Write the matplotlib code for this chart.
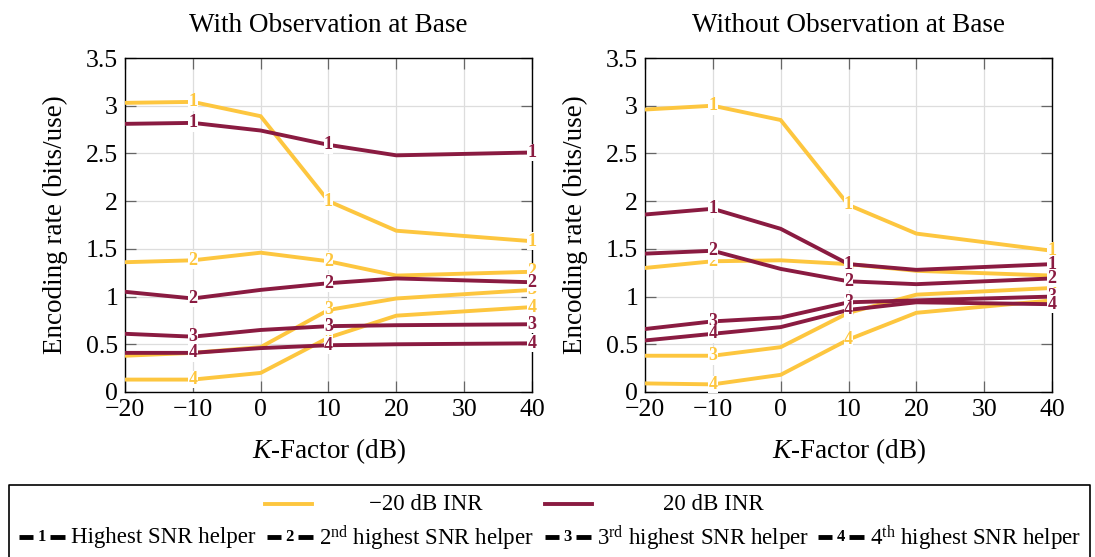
import matplotlib
matplotlib.use('Agg')
import matplotlib.pyplot as plt

plt.rcParams['font.family'] = ['Liberation Serif', 'DejaVu Serif']
plt.rcParams['mathtext.fontset'] = 'custom'
plt.rcParams['mathtext.rm'] = 'Liberation Serif'
plt.rcParams['mathtext.it'] = 'Liberation Serif:italic'
plt.rcParams['mathtext.bf'] = 'Liberation Serif:bold'

YELLOW = '#FDC63F'
MAROON = '#8A1B41'

k_factor = [-20, -10, 0, 10, 20, 40]
label_at = [-10, 10, 40]

# rows = 1st..4th highest SNR helper
with_m20 = [[3.03, 3.04, 2.89, 2.00, 1.69, 1.58],
            [1.36, 1.38, 1.46, 1.37, 1.22, 1.26],
            [0.38, 0.41, 0.47, 0.86, 0.98, 1.07],
            [0.13, 0.13, 0.20, 0.57, 0.80, 0.89]]
with_p20 = [[2.81, 2.82, 2.74, 2.59, 2.48, 2.51],
            [1.05, 0.98, 1.07, 1.14, 1.19, 1.15],
            [0.61, 0.58, 0.65, 0.69, 0.70, 0.71],
            [0.41, 0.41, 0.46, 0.49, 0.50, 0.51]]
without_m20 = [[2.96, 3.00, 2.85, 1.96, 1.66, 1.48],
               [1.30, 1.37, 1.38, 1.34, 1.27, 1.22],
               [0.38, 0.38, 0.47, 0.83, 1.02, 1.09],
               [0.09, 0.08, 0.18, 0.55, 0.83, 0.96]]
without_p20 = [[1.86, 1.92, 1.71, 1.34, 1.28, 1.34],
               [1.45, 1.48, 1.29, 1.16, 1.13, 1.19],
               [0.66, 0.74, 0.78, 0.94, 0.96, 1.00],
               [0.54, 0.61, 0.68, 0.86, 0.94, 0.92]]

titles = ['With Observation at Base', 'Without Observation at Base']
legend_helpers = ['Highest SNR helper', r'2$^{\mathrm{nd}}$ highest SNR helper',
                  r'3$^{\mathrm{rd}}$ highest SNR helper', r'4$^{\mathrm{th}}$ highest SNR helper']

fig = plt.figure(figsize=(10.95, 5.57), dpi=100)
ax1 = fig.add_axes([125 / 1095, 1 - 392 / 557, 407 / 1095, 334 / 557])
ax2 = fig.add_axes([645 / 1095, 1 - 392 / 557, 407 / 1095, 334 / 557])


def draw_series(ax, data, color):
    for i, vals in enumerate(data):
        ax.plot(k_factor, vals, color=color, lw=2.8, solid_joinstyle='miter', zorder=3)
        for x in label_at:
            y = vals[k_factor.index(x)]
            ax.text(x, y, str(i + 1), color=color, fontsize=13, fontweight='bold',
                    ha='center', va='center', zorder=4, clip_on=False,
                    bbox=dict(facecolor='white', edgecolor='none', pad=0.2))


for ax, title, low, high in [(ax1, titles[0], with_m20, with_p20),
                             (ax2, titles[1], without_m20, without_p20)]:
    draw_series(ax, low, YELLOW)
    draw_series(ax, high, MAROON)
    ax.set_xlim(-20, 40)
    ax.set_ylim(0, 3.5)
    ax.set_xticks(range(-20, 41, 10))
    ax.set_yticks([0, 0.5, 1, 1.5, 2, 2.5, 3, 3.5])
    ax.set_yticklabels(['0', '0.5', '1', '1.5', '2', '2.5', '3', '3.5'])
    ax.grid(True, color='#dddddd', lw=0.9, zorder=0)
    ax.set_axisbelow(True)
    ax.tick_params(direction='in', length=8, width=0.9, color='#666666',
                   top=True, right=True, labelsize=18.5, pad=5)
    for sp in ax.spines.values():
        sp.set_linewidth(1.0)
    ax.set_title(title, fontsize=19.5, pad=19)
    ax.set_xlabel(r'$K$-Factor (dB)', fontsize=19.5, labelpad=11)
    ax.set_ylabel('Encoding rate (bits/use)', fontsize=19.5, labelpad=13)

# legend drawn in pixel coordinates
lg = fig.add_axes([0, 0, 1, 1], zorder=-1)
lg.set_xlim(0, 1095)
lg.set_ylim(557, 0)
lg.axis('off')
lg.plot([9, 9, 1090, 1090], [560, 485, 485, 560], color='black', lw=1.2)

lg.plot([265, 312], [504, 504], color=YELLOW, lw=2.8)
lg.text(426, 504, '\u221220 dB INR', fontsize=16.5, ha='center', va='center')
lg.plot([545, 592], [504, 504], color=MAROON, lw=2.8)
lg.text(713, 504, '20 dB INR', fontsize=16.5, ha='center', va='center')

for i, x0 in enumerate([19, 267, 545, 818]):
    lg.plot([x0, x0 + 14], [537, 537], color='black', lw=3.5, solid_capstyle='butt')
    lg.plot([x0 + 31, x0 + 46], [537, 537], color='black', lw=3.5, solid_capstyle='butt')
    lg.text(x0 + 22.5, 537, str(i + 1), fontsize=12, fontweight='bold', ha='center', va='center')
    lg.text(x0 + 52, 538, legend_helpers[i], fontsize=16.5, ha='left', va='center')

fig.savefig('out.png', dpi=100)
